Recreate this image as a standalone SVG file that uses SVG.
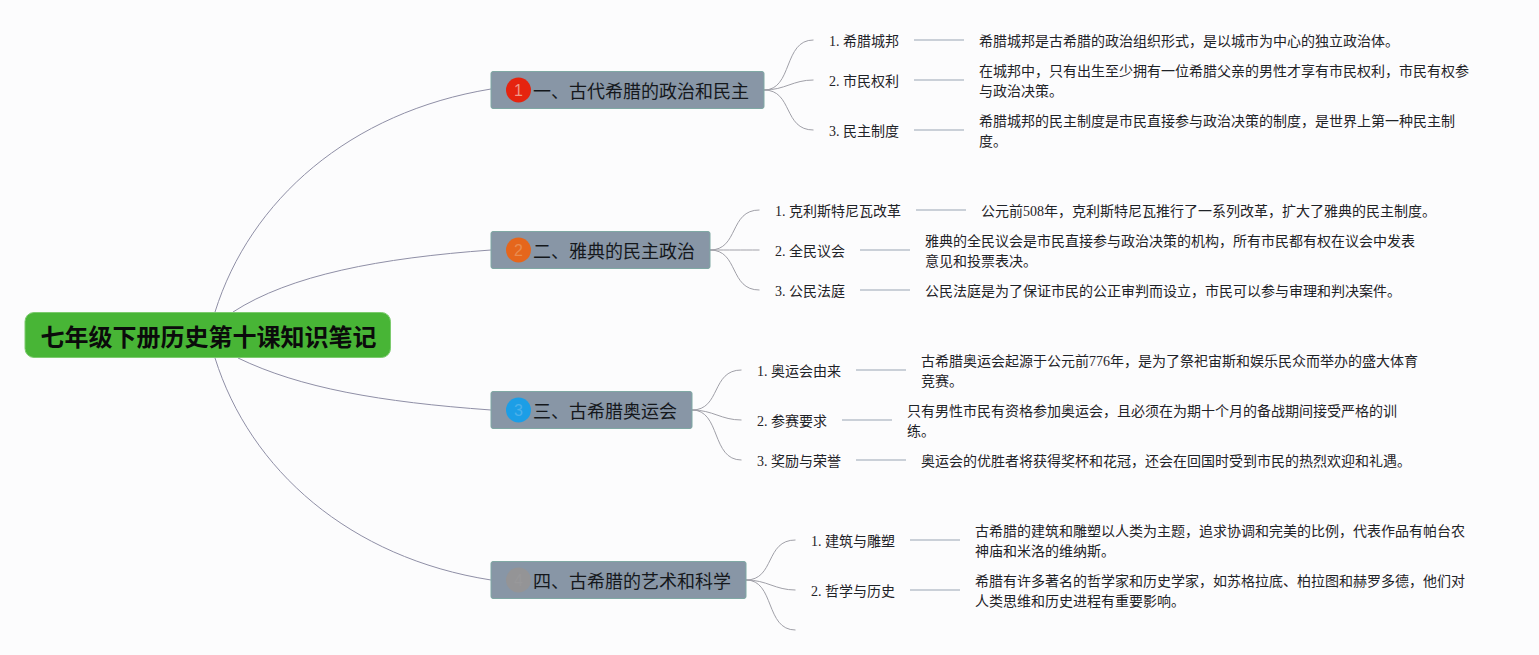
<svg xmlns="http://www.w3.org/2000/svg" width="1539" height="655" viewBox="0 0 1539 655">
<style>
text{font-family:"Liberation Serif","Noto Sans CJK SC",serif;fill:#1f2328}
.root{font-size:24px;font-weight:700;fill:#0b0b0b;font-family:"Liberation Sans","Noto Sans CJK SC",sans-serif}
.rootbox{fill:#48b536;stroke:#7ccb6e;stroke-width:1}
.box{fill:#8896a6;stroke:#7fa8a4;stroke-width:1}
.t{font-size:18px;fill:#15181c}
.s,.d{font-size:14px}
.c{fill:none;stroke:#a0a0a8;stroke-width:1}
.r{fill:none;stroke:#8f8fa6;stroke-width:1}
.l{fill:none;stroke:#b9c1cc;stroke-width:1.5}
.n{font-size:16px;text-anchor:middle;font-family:"Liberation Sans",sans-serif}
</style>
<rect width="1539" height="655" fill="#fcfcfd"/>
<g id="connectors">
<path class="r" d="M215 312C250 200 350 112 491 89"/>
<path class="r" d="M233 312C290 275 380 258 491 250"/>
<path class="r" d="M238 358C300 388 380 402 491 410"/>
<path class="r" d="M215 358C250 470 350 558 491 580"/>
<path class="c" d="M764 90C793 90 783 40 813.500 40"/>
<path class="c" d="M764 90C785 90 793 80 813.500 80"/>
<path class="c" d="M764 90C793 90 783 130 813.500 130"/>
<path class="c" d="M710 250C739 250 729 210 759.500 210"/>
<path class="c" d="M710 250C731 250 739 250 759.500 250"/>
<path class="c" d="M710 250C739 250 729 290 759.500 290"/>
<path class="c" d="M692 410C721 410 711 370 741.500 370"/>
<path class="c" d="M692 410C713 410 721 420 741.500 420"/>
<path class="c" d="M692 410C721 410 711 460 741.500 460"/>
<path class="c" d="M746 580C775 580 765 540 795.500 540"/>
<path class="c" d="M746 580C767 580 775 590 795.500 590"/>
<path class="c" d="M746 580C775 580 765 630 795.500 630"/>
<path class="l" d="M914 40H964M914 80H964M914 130H964M916 210H966M860 250H910M860 290H910M856 370H906M842 420H892M856 460H906M910 540H960M910 590H960"/>
</g>
<g id="root"><rect class="rootbox" x="25" y="312.500" width="365.500" height="45" rx="9"/><text class="root" x="40.500" y="346">七年级下册历史第十课知识笔记</text></g>
<g id="b1"><rect class="box" x="491" y="71.500" width="273" height="37" rx="2"/><circle cx="518.500" cy="90" r="12.500" fill="#e5240f"/><text class="n" x="518.500" y="96" style="fill:#ee9a88">1</text><text class="t" x="533" y="98">一、古代希腊的政治和民主</text></g>
<g id="b2"><rect class="box" x="491" y="231.500" width="219" height="37" rx="2"/><circle cx="518.500" cy="250" r="12.500" fill="#e5661c"/><text class="n" x="518.500" y="256" style="fill:#e88c50">2</text><text class="t" x="533" y="258">二、雅典的民主政治</text></g>
<g id="b3"><rect class="box" x="491" y="391.500" width="201" height="37" rx="2"/><circle cx="518.500" cy="410" r="12.500" fill="#1c9ee6"/><text class="n" x="518.500" y="416" style="fill:#4cb0ea">3</text><text class="t" x="533" y="418">三、古希腊奥运会</text></g>
<g id="b4"><rect class="box" x="491" y="561.500" width="255" height="37" rx="2"/><circle cx="518.500" cy="580" r="12.500" fill="#949496"/><text class="n" x="518.500" y="586" style="fill:#98989a">4</text><text class="t" x="533" y="588">四、古希腊的艺术和科学</text></g>
<g id="n11"><text class="s" x="829" y="46">1. 希腊城邦</text><text class="d" x="979" y="46">希腊城邦是古希腊的政治组织形式，是以城市为中心的独立政治体。</text></g>
<g id="n12"><text class="s" x="829" y="86">2. 市民权利</text><text class="d" x="979" y="76">在城邦中，只有出生至少拥有一位希腊父亲的男性才享有市民权利，市民有权参</text><text class="d" x="979" y="96">与政治决策。</text></g>
<g id="n13"><text class="s" x="829" y="136">3. 民主制度</text><text class="d" x="979" y="126">希腊城邦的民主制度是市民直接参与政治决策的制度，是世界上第一种民主制</text><text class="d" x="979" y="146">度。</text></g>
<g id="n21"><text class="s" x="775" y="216">1. 克利斯特尼瓦改革</text><text class="d" x="981" y="216">公元前508年，克利斯特尼瓦推行了一系列改革，扩大了雅典的民主制度。</text></g>
<g id="n22"><text class="s" x="775" y="256">2. 全民议会</text><text class="d" x="925" y="246">雅典的全民议会是市民直接参与政治决策的机构，所有市民都有权在议会中发表</text><text class="d" x="925" y="266">意见和投票表决。</text></g>
<g id="n23"><text class="s" x="775" y="296">3. 公民法庭</text><text class="d" x="925" y="296">公民法庭是为了保证市民的公正审判而设立，市民可以参与审理和判决案件。</text></g>
<g id="n31"><text class="s" x="757" y="376">1. 奥运会由来</text><text class="d" x="921" y="366">古希腊奥运会起源于公元前776年，是为了祭祀宙斯和娱乐民众而举办的盛大体育</text><text class="d" x="921" y="386">竞赛。</text></g>
<g id="n32"><text class="s" x="757" y="426">2. 参赛要求</text><text class="d" x="907" y="416">只有男性市民有资格参加奥运会，且必须在为期十个月的备战期间接受严格的训</text><text class="d" x="907" y="436">练。</text></g>
<g id="n33"><text class="s" x="757" y="466">3. 奖励与荣誉</text><text class="d" x="921" y="466">奥运会的优胜者将获得奖杯和花冠，还会在回国时受到市民的热烈欢迎和礼遇。</text></g>
<g id="n41"><text class="s" x="811" y="546">1. 建筑与雕塑</text><text class="d" x="975" y="536">古希腊的建筑和雕塑以人类为主题，追求协调和完美的比例，代表作品有帕台农</text><text class="d" x="975" y="556">神庙和米洛的维纳斯。</text></g>
<g id="n42"><text class="s" x="811" y="596">2. 哲学与历史</text><text class="d" x="975" y="586">希腊有许多著名的哲学家和历史学家，如苏格拉底、柏拉图和赫罗多德，他们对</text><text class="d" x="975" y="606">人类思维和历史进程有重要影响。</text></g>
</svg>
